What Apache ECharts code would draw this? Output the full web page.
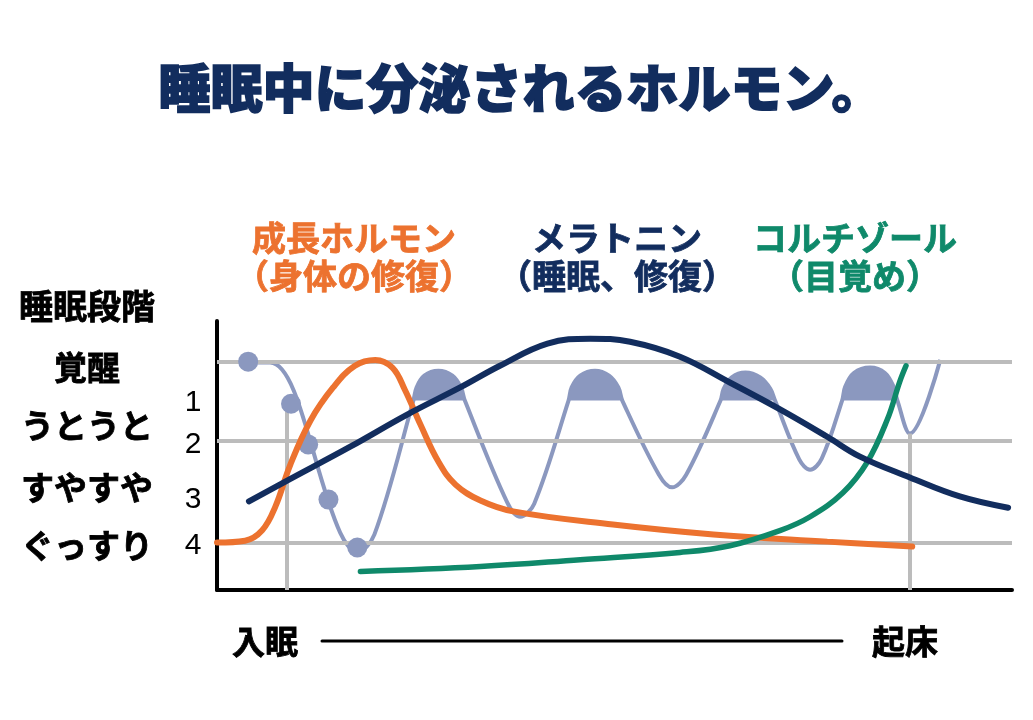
<!DOCTYPE html>
<html>
<head>
<meta charset="utf-8">
<script src="https://cdn.jsdelivr.net/npm/echarts@6/dist/echarts.min.js"></script>
<style>
html,body{margin:0;padding:0;background:#fff;}
#chart{width:1033px;height:720px;}
</style>
</head>
<body>
<div id="chart"></div>
<script>
// x = hours after falling asleep (入眠 = 0, 起床 = 8), y = sleep depth (0 = 覚醒, 4 = ぐっすり)
const title = '睡眠中に分泌されるホルモン。';
const hormoneNames = ['成長ホルモン', 'メラトニン', 'コルチゾール'];
const hormoneRoles = ['（身体の修復）', '（睡眠、修復）', '（目覚め）'];
const axisTitle = '睡眠段階';
const stageLabels = ['覚醒', 'うとうと', 'すやすや', 'ぐっすり'];
const stageNumbers = ['1', '2', '3', '4'];
const timeLabels = ['入眠', '起床'];
const gridDepths = [0, 1.75, 4];
const wakeHour = 0, riseHour = 7.99;

// sleep-stage curve, split into descents/troughs and REM domes
const sleepStart = [[-0.50, 0.02], [-0.22, 0.02], [0.68, 3.78], [0.90, 4.22], [1.12, 3.82]];
const rem1 = [[1.62, 0.86], [1.66, 0.57], [1.76, 0.31], [1.94, 0.20], [2.12, 0.31], [2.23, 0.57], [2.28, 0.86]];
const trough1 = [[2.82, 3.10], [2.99, 3.43], [3.17, 3.14]];
const rem2 = [[3.61, 0.86], [3.65, 0.57], [3.76, 0.31], [3.95, 0.20], [4.13, 0.31], [4.25, 0.57], [4.30, 0.86]];
const trough2 = [[4.77, 2.50], [4.94, 2.78], [5.12, 2.50]];
const rem3 = [[5.56, 0.86], [5.60, 0.60], [5.70, 0.35], [5.88, 0.24], [6.07, 0.35], [6.20, 0.60], [6.26, 0.86]];
const trough3 = [[6.57, 2.16], [6.71, 2.39], [6.86, 2.14]];
const rem4 = [[7.12, 0.86], [7.16, 0.55], [7.27, 0.25], [7.48, 0.13], [7.67, 0.25], [7.78, 0.55], [7.83, 0.86]];
const sleepEnd = [[7.99, 1.59], [8.38, -0.04]];
const sleepDots = [[-0.50, 0.0], [0.05, 0.93], [0.27, 1.83], [0.53, 3.05], [0.90, 4.11]];

const growthHormone = [[-0.90, 4.00], [-0.54, 3.96], [-0.32, 3.73], [-0.15, 3.20], [0.04, 2.28], [0.30, 1.30],
  [0.59, 0.57], [0.87, 0.09], [1.13, -0.04], [1.35, 0.13], [1.51, 0.62], [1.71, 1.39], [1.94, 2.21],
  [2.16, 2.72], [2.48, 3.07], [2.90, 3.31], [4.18, 3.60], [5.47, 3.82], [6.93, 3.98], [8.02, 4.09]];
const melatonin = [[-0.49, 3.09], [0.00, 2.63], [0.81, 1.88], [1.54, 1.17], [2.22, 0.57], [2.73, 0.09],
  [3.34, -0.40], [3.89, -0.51], [4.40, -0.44], [5.04, -0.11], [5.68, 0.46], [6.33, 1.06], [6.93, 1.66],
  [7.35, 2.10], [7.99, 2.56], [8.63, 2.98], [9.25, 3.23]];
const cortisol = [[0.94, 4.64], [2.48, 4.53], [3.76, 4.38], [5.04, 4.22], [5.68, 4.07], [6.33, 3.73],
  [6.71, 3.43], [7.13, 2.90], [7.44, 2.23], [7.70, 1.28], [7.86, 0.44], [7.94, 0.09]];

const sleepCurve = [].concat(sleepStart, rem1, trough1, rem2, trough2, rem3, trough3, rem4, sleepEnd);
const remBase = 0.86;

const C = {navy: '#122d5e', orange: '#ec722f', green: '#0f896a', sleep: '#8b98bf', grid: '#bcbcbc', black: '#000'};
const FONT = '"Noto Sans CJK JP", "Noto Sans", sans-serif';
const hormoneColors = [C.orange, C.navy, C.green];
const hormoneX = [354, 617, 855];
const stageY = [367, 425, 487, 545];
const numberY = [403, 445, 500, 546];

const chart = echarts.init(document.getElementById('chart'));

const graphics = [];
function txt(text, x, y, size, color, weight, family, stroke) {
  const style = {text: text, fill: color, align: 'center', verticalAlign: 'middle',
    font: (weight || 'bold') + ' ' + size + 'px ' + (family || FONT)};
  if (stroke) { style.stroke = color; style.lineWidth = stroke; }
  graphics.push({type: 'text', x: x, y: y, z: 100, style: style});
}
txt(title, 521, 88, 52, C.navy, '900', null, 1.6);
hormoneNames.forEach((n, i) => txt(n, hormoneX[i], 238, 34, hormoneColors[i], 'bold', null, 0.8));
hormoneRoles.forEach((n, i) => txt(n, hormoneX[i], 276, 34, hormoneColors[i], 'bold', null, 0.8));
txt(axisTitle, 87, 306, 34, C.black, 'bold', null, 0.8);
stageLabels.forEach((n, i) => txt(n, 87, stageY[i], 33, C.black, 'bold', null, 0.8));
stageNumbers.forEach((n, i) => txt(n, 193, numberY[i], 30, C.black, 'normal', '"Liberation Sans", Arial, sans-serif'));
txt(timeLabels[0], 265, 641, 33, C.black, 'bold', null, 0.8);
txt(timeLabels[1], 905, 641, 33, C.black, 'bold', null, 0.8);
graphics.push({type: 'line', z: 100, shape: {x1: 322, y1: 641, x2: 842, y2: 641},
  style: {stroke: C.black, lineWidth: 3, lineCap: 'round'}});

function dome(data) {
  return {type: 'line', data: data, smooth: 0.5, symbol: 'none', z: 4, silent: true,
    lineStyle: {width: 0}, areaStyle: {color: C.sleep, opacity: 1, origin: remBase}};
}

const option = {
  animation: false,
  backgroundColor: '#fff',
  grid: {left: 217, right: 21, top: 321, bottom: 130},
  xAxis: {type: 'value', min: -0.9, max: 9.3,
    axisLine: {show: true, onZero: false, lineStyle: {color: C.black, width: 4}},
    axisTick: {show: false}, axisLabel: {show: false}, splitLine: {show: false}},
  yAxis: {type: 'value', inverse: true, min: -0.9, max: 5.05,
    axisLine: {show: true, onZero: false, lineStyle: {color: C.black, width: 4}},
    axisTick: {show: false}, axisLabel: {show: false}, splitLine: {show: false}},
  graphic: graphics,
  series: [
    {type: 'line', data: [], z: 1, silent: true,
      markLine: {silent: true, symbol: 'none', label: {show: false},
        lineStyle: {color: C.grid, width: 4, type: 'solid'},
        data: gridDepths.map(d => ({yAxis: d})).concat([
          [{coord: [wakeHour, 0.9]}, {coord: [wakeHour, 5.05]}],
          [{coord: [riseHour, 1.59]}, {coord: [riseHour, 5.05]}]
        ])}},
    {type: 'line', data: sleepCurve, smooth: 0.35, symbol: 'none', z: 3,
      lineStyle: {color: C.sleep, width: 4}},
    dome(rem1), dome(rem2), dome(rem3), dome(rem4),
    {type: 'scatter', data: sleepDots, symbolSize: 20, z: 5,
      itemStyle: {color: C.sleep, opacity: 1}},
    {type: 'line', data: growthHormone, smooth: 0.4, symbol: 'none', z: 6,
      lineStyle: {color: C.orange, width: 6, cap: 'round'}},
    {type: 'line', data: cortisol, smooth: 0.4, symbol: 'none', z: 7,
      lineStyle: {color: C.green, width: 5.5, cap: 'round'}},
    {type: 'line', data: melatonin, smooth: 0.4, symbol: 'none', z: 8,
      lineStyle: {color: C.navy, width: 6, cap: 'round'}}
  ]
};
chart.setOption(option);
</script>
</body>
</html>
